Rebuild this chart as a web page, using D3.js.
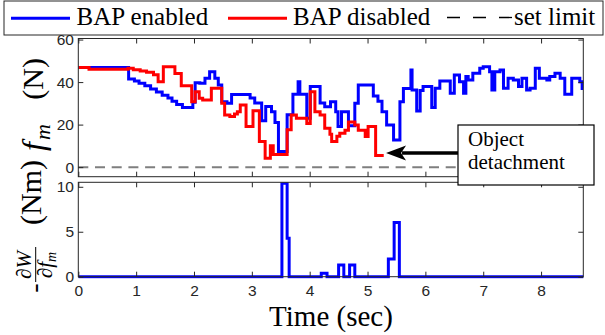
<!DOCTYPE html>
<html>
<head>
<meta charset="utf-8">
<script src="https://cdn.jsdelivr.net/npm/d3@7"></script>
<style>
  body { margin: 0; background: #fff; }
  svg { display: block; }
  .tick text { font-family: "Liberation Sans", Arial, sans-serif; font-size: 15.5px; fill: #262626; }
  .tick line { stroke: #262626; }
</style>
</head>
<body>
<svg id="chart" width="605" height="335"></svg>
<script>
// values: [time (s), value], step-after
const enabledSteps = [
  [0, 46.9], [0.87, 41.5], [0.97, 40.5], [1.05, 39.5], [1.15, 38.3], [1.25, 36.8], [1.35, 35.3],
  [1.45, 33.8], [1.55, 32.5], [1.62, 31.0], [1.70, 29.5], [1.80, 28.0], [1.98, 30.5], [2.02, 39.7],
  [2.10, 39.4], [2.19, 41.8], [2.27, 44.9], [2.36, 41.8], [2.42, 38.6], [2.48, 30.8], [2.57, 30.0],
  [2.65, 34.2], [2.97, 32.5], [3.05, 30.2], [3.17, 21.8], [3.24, 28.5], [3.34, 26.0], [3.40, 21.0],
  [3.46, 7.4], [3.61, 24.6], [3.71, 34.3], [3.80, 40.2], [3.83, 34.3], [3.95, 23.0], [4.01, 37.9],
  [4.18, 30.2], [4.26, 28.4], [4.36, 30.8], [4.45, 26.0], [4.49, 19.1], [4.55, 26.1], [4.67, 19.5],
  [4.78, 30.0], [4.84, 38.6], [5.10, 33.5], [5.18, 31.0], [5.25, 26.1], [5.33, 19.8], [5.45, 12.8],
  [5.56, 30.8], [5.62, 37.0], [5.75, 45.7], [5.77, 36.3], [5.85, 26.4], [5.91, 36.0], [5.96, 37.9],
  [6.11, 28.0], [6.17, 37.1], [6.25, 40.5], [6.43, 34.7], [6.50, 43.3], [6.59, 40.2], [6.66, 34.7],
  [6.70, 42.6], [6.74, 41.0], [6.82, 44.1], [6.94, 46.5], [7.00, 47.2], [7.11, 44.9], [7.15, 36.3],
  [7.20, 44.9], [7.29, 45.7], [7.35, 37.1], [7.43, 41.8], [7.52, 41.0], [7.61, 37.9], [7.67, 41.8],
  [7.75, 36.3], [7.81, 37.1], [7.90, 46.5], [7.97, 41.8], [8.10, 41.0], [8.15, 42.6], [8.24, 44.1],
  [8.33, 41.8], [8.41, 34.3], [8.53, 41.8], [8.67, 40.2], [8.71, 37.0], [8.73, 37.0]
];

const disabledSteps = [
  [0, 46.9], [0.185, 46.0], [0.86, 46.5], [0.95, 45.8], [1.07, 45.2], [1.18, 44.6], [1.30, 43.4],
  [1.38, 40.2], [1.47, 47.2], [1.67, 44.0], [1.78, 38.3], [1.96, 30.8], [2.02, 35.5], [2.09, 32.4],
  [2.15, 31.6], [2.30, 37.1], [2.48, 30.0], [2.53, 24.5], [2.62, 23.8], [2.70, 25.0], [2.75, 26.1],
  [2.80, 29.2], [2.90, 19.1], [3.02, 26.5], [3.13, 12.0], [3.23, 4.2], [3.32, 10.0], [3.37, 6.0],
  [3.61, 17.6], [3.68, 24.5], [3.77, 23.0], [3.95, 20.5], [4.01, 35.5], [4.09, 26.1], [4.18, 24.5],
  [4.26, 18.3], [4.35, 15.5], [4.38, 12.0], [4.47, 14.5], [4.52, 15.9], [4.61, 17.4], [4.67, 21.2],
  [4.78, 19.8], [4.84, 17.4], [4.96, 14.4], [5.01, 19.1], [5.14, 5.5], [5.28, 5.5]
];

const gradientSteps = [
  [0, 0], [3.52, 10.4], [3.61, 4.27], [3.645, 0], [4.2, 0.37], [4.3, 0], [4.5, 1.3], [4.59, 0],
  [4.69, 1.3], [4.78, 0], [5.36, 1.97], [5.46, 6.04], [5.55, 0], [8.73, 0]
];

const setLimit = 0;
const timeRange = [0, 8.73];
const xTicks = [0, 1, 2, 3, 4, 5, 6, 7, 8];
const topYTicks = [0, 20, 40, 60];
const bottomYTicks = [0, 5, 10];
const legendLabels = ["BAP enabled", "BAP disabled", "set limit"];
const arrowTip = [5.32, 6.6];   // where the "Object detachment" arrow points

const SERIF = '"Liberation Serif", "DejaVu Serif", "Times New Roman", serif';

const svg = d3.select("#chart");

const plotLeft = 78.3, plotRight = 583.3;
const top1 = 38.5, bottom1 = 176.7;
const top2 = 182.3, bottom2 = 276.7;

const x = d3.scaleLinear().domain(timeRange).range([plotLeft, plotRight]);
const yTop = d3.scaleLinear().domain([-4.5, 60.5]).range([bottom1, top1]);
const yBot = d3.scaleLinear().domain([0, 10.5]).range([bottom2, top2]);

const stepLine = (yScale) => d3.line()
  .x(d => x(d[0]))
  .y(d => yScale(d[1]))
  .curve(d3.curveStepAfter);

// serif text helper
let serifText = function (parent, size) {
  return parent.append("text")
    .style("font-family", SERIF)
    .style("font-size", size + "px")
    .attr("fill", "#000");
};

let defs = svg.append("defs");
defs.append("clipPath").attr("id", "clipTop")
  .append("rect").attr("x", plotLeft).attr("y", top1 - 2)
  .attr("width", plotRight - plotLeft).attr("height", bottom1 - top1 + 2);
defs.append("clipPath").attr("id", "clipBot")
  .append("rect").attr("x", plotLeft).attr("y", top2)
  .attr("width", plotRight - plotLeft + 2).attr("height", bottom2 - top2 + 2);

// axes helper: frame + inward ticks on all four sides
let drawAxes = function (yScale, yTickVals, yTop0, yBot0, showX) {
  const g = svg.append("g");
  g.append("g")
    .attr("transform", `translate(0,${yBot0})`)
    .call(d3.axisBottom(x).tickValues(xTicks).tickSize(-5).tickPadding(8.5)
      .tickFormat(showX ? d3.format("d") : ""));
  g.append("g")
    .attr("transform", `translate(0,${yTop0})`)
    .call(d3.axisTop(x).tickValues(xTicks).tickSize(-5).tickFormat(""));
  g.append("g")
    .attr("transform", `translate(${plotLeft},0)`)
    .call(d3.axisLeft(yScale).tickValues(yTickVals).tickSize(-5).tickPadding(4.3));
  g.append("g")
    .attr("transform", `translate(${plotRight},0)`)
    .call(d3.axisRight(yScale).tickValues(yTickVals).tickSize(-5).tickFormat(""));
  g.selectAll(".domain").remove();
  g.append("rect")
    .attr("x", plotLeft).attr("y", yTop0)
    .attr("width", plotRight - plotLeft).attr("height", yBot0 - yTop0)
    .attr("fill", "none").attr("stroke", "#262626").attr("stroke-width", 1);
  return g;
};

// ---- top panel
svg.append("line")
  .attr("x1", x(timeRange[0])).attr("x2", x(timeRange[1]))
  .attr("y1", yTop(setLimit)).attr("y2", yTop(setLimit))
  .attr("stroke", "#7f7f7f").attr("stroke-width", 2)
  .attr("stroke-dasharray", "10,6.7");

const topLines = svg.append("g").attr("clip-path", "url(#clipTop)");
topLines.append("path")
  .attr("d", stepLine(yTop)(enabledSteps))
  .attr("fill", "none").attr("stroke", "#0000ff").attr("stroke-width", 3);
topLines.append("path")
  .attr("d", stepLine(yTop)(disabledSteps))
  .attr("fill", "none").attr("stroke", "#ff0000").attr("stroke-width", 3);

drawAxes(yTop, topYTicks, top1, bottom1, false);

// ---- bottom panel
svg.append("g").attr("clip-path", "url(#clipBot)")
  .append("path")
  .attr("d", stepLine(yBot)(gradientSteps))
  .attr("fill", "none").attr("stroke", "#0000ff").attr("stroke-width", 3);

drawAxes(yBot, bottomYTicks, top2, bottom2, true);

// ---- annotation
const boxX = 458, boxY = 125, boxW = 136, boxH = 60;
const tipX = x(arrowTip[0]), tipY = yTop(arrowTip[1]);
svg.append("line")
  .attr("x1", boxX).attr("x2", tipX + 16)
  .attr("y1", tipY).attr("y2", tipY)
  .attr("stroke", "#000").attr("stroke-width", 3.5);
svg.append("path")
  .attr("d", `M${tipX},${tipY} L${tipX + 20},${tipY - 7.5} L${tipX + 15},${tipY} L${tipX + 20},${tipY + 7.5} Z`)
  .attr("fill", "#000");
svg.append("rect")
  .attr("x", boxX).attr("y", boxY).attr("width", boxW).attr("height", boxH)
  .attr("fill", "#fff").attr("stroke", "#000").attr("stroke-width", 1.2);
serifText(svg, 21).attr("x", boxX + 10).attr("y", boxY + 21).text("Object");
serifText(svg, 21).attr("x", boxX + 10).attr("y", boxY + 43.5).text("detachment");

// ---- axis labels
serifText(svg, 29).attr("x", 331).attr("y", 326).attr("text-anchor", "middle").text("Time (sec)");

// f_m (N), rotated; local x = -screen y
const yl1 = svg.append("g").attr("transform", "rotate(-90)");
const fm = serifText(yl1, 32).attr("x", -151).attr("y", 44);
fm.append("tspan").style("font-style", "italic").text("f");
fm.append("tspan").style("font-style", "italic").style("font-size", "22px").attr("dx", 2).attr("dy", 6).text("m");
serifText(yl1, 30).attr("x", -58).attr("y", 43).attr("text-anchor", "end").text("(N)");

// -dW/df_m (Nm), rotated
const yl2 = svg.append("g").attr("transform", "rotate(-90)");
serifText(yl2, 28).attr("x", -288).attr("y", 43).attr("text-anchor", "middle").text("-");
serifText(yl2, 21).attr("x", -265).attr("y", 31).attr("text-anchor", "middle")
  .style("font-style", "italic").text("∂W");
yl2.append("line")
  .attr("x1", -282).attr("x2", -247).attr("y1", 35.7).attr("y2", 35.7)
  .attr("stroke", "#000").attr("stroke-width", 1);
const den = serifText(yl2, 21).attr("x", -265).attr("y", 52).attr("text-anchor", "middle")
  .style("font-style", "italic");
den.append("tspan").text("∂f");
den.append("tspan").style("font-size", "14px").attr("dy", 4).text("m");
serifText(yl2, 30).attr("x", -225).attr("y", 41).text("(Nm)");

// ---- legend
const legend = svg.append("g");
legend.append("rect")
  .attr("x", 4).attr("y", 1).attr("width", 599).attr("height", 34)
  .attr("fill", "#fff").attr("stroke", "#262626").attr("stroke-width", 1);
legend.append("line").attr("x1", 11).attr("x2", 70).attr("y1", 18.3).attr("y2", 18.3)
  .attr("stroke", "#0000ff").attr("stroke-width", 3);
serifText(legend, 25).attr("x", 76.5).attr("y", 24.5).text(legendLabels[0]);
legend.append("line").attr("x1", 228).attr("x2", 287).attr("y1", 18.3).attr("y2", 18.3)
  .attr("stroke", "#ff0000").attr("stroke-width", 3);
serifText(legend, 25).attr("x", 293).attr("y", 24.5).text(legendLabels[1]);
legend.append("line").attr("x1", 447).attr("x2", 512).attr("y1", 17.5).attr("y2", 17.5)
  .attr("stroke", "#000").attr("stroke-width", 1.3).attr("stroke-dasharray", "13,13");
serifText(legend, 25).attr("x", 514).attr("y", 24.5).text(legendLabels[2]);
</script>
</body>
</html>
